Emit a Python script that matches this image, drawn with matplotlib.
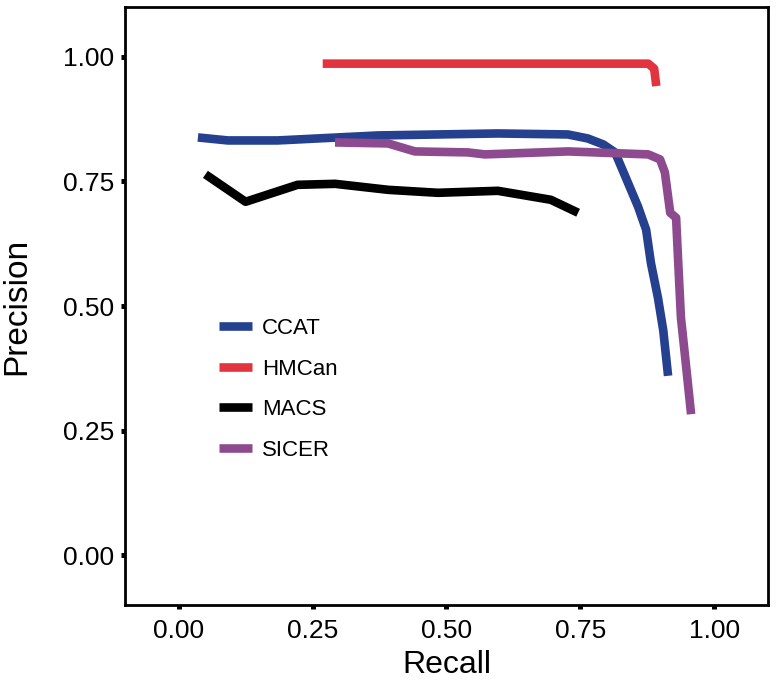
import matplotlib
matplotlib.use('Agg')
import matplotlib.pyplot as plt

plt.rcParams['font.family'] = ['Liberation Sans', 'DejaVu Sans']

# precision / recall curves
ccat_recall = [0.036, 0.092, 0.185, 0.297, 0.372, 0.484, 0.596, 0.727, 0.764,
               0.793, 0.815, 0.834, 0.858, 0.873, 0.882, 0.895, 0.905, 0.914]
ccat_precision = [0.838, 0.832, 0.832, 0.838, 0.842, 0.844, 0.846, 0.844, 0.836,
                  0.824, 0.808, 0.760, 0.699, 0.653, 0.586, 0.517, 0.451, 0.360]

hmcan_recall = [0.269, 0.500, 0.700, 0.877, 0.888, 0.892]
hmcan_precision = [0.986, 0.986, 0.986, 0.986, 0.976, 0.941]

macs_recall = [0.050, 0.125, 0.222, 0.292, 0.391, 0.484, 0.596, 0.695, 0.746]
macs_precision = [0.764, 0.709, 0.743, 0.745, 0.733, 0.727, 0.731, 0.713, 0.687]

sicer_recall = [0.292, 0.391, 0.441, 0.540, 0.572, 0.727, 0.877, 0.899, 0.908,
                0.918, 0.929, 0.933, 0.938, 0.946, 0.957]
sicer_precision = [0.828, 0.826, 0.810, 0.808, 0.804, 0.810, 0.804, 0.794, 0.768,
                   0.687, 0.677, 0.586, 0.477, 0.396, 0.283]

series = [
    ('CCAT', ccat_recall, ccat_precision, '#24408e'),
    ('HMCan', hmcan_recall, hmcan_precision, '#e2343f'),
    ('MACS', macs_recall, macs_precision, '#000000'),
    ('SICER', sicer_recall, sicer_precision, '#8e4a8e'),
]

ticks = [0.00, 0.25, 0.50, 0.75, 1.00]
tick_labels = ['0.00', '0.25', '0.50', '0.75', '1.00']

fig = plt.figure(figsize=(7.77, 6.8), dpi=100)
ax = fig.add_axes([0.161, 0.110, 0.827, 0.880])

for name, x, y, color in series:
    ax.plot(x, y, color=color, lw=6.2, label=name,
            solid_capstyle='butt', solid_joinstyle='round')

ax.set_xlim(-0.1, 1.1)
ax.set_ylim(-0.1, 1.1)
ax.set_xticks(ticks, tick_labels)
ax.set_yticks(ticks, tick_labels)
ax.tick_params(length=3, width=3.6, labelsize=19, pad=5)
ax.tick_params(axis='x', pad=7)
for spine in ax.spines.values():
    spine.set_linewidth(2)

ax.set_xlabel('Recall', fontsize=23)
ax.set_ylabel('Precision', fontsize=24)
ax.xaxis.label.set_va('center')
ax.yaxis.label.set_va('center')
ax.xaxis.set_label_coords(0.5, -0.100)
ax.yaxis.set_label_coords(-0.168, 0.5)

ax.legend(loc='upper left', bbox_to_anchor=(0.146, 0.48), frameon=False,
          fontsize=16, handlelength=1.5, handletextpad=0.45,
          labelspacing=0.88, borderpad=0, borderaxespad=0)

fig.savefig('out.png', dpi=100)
